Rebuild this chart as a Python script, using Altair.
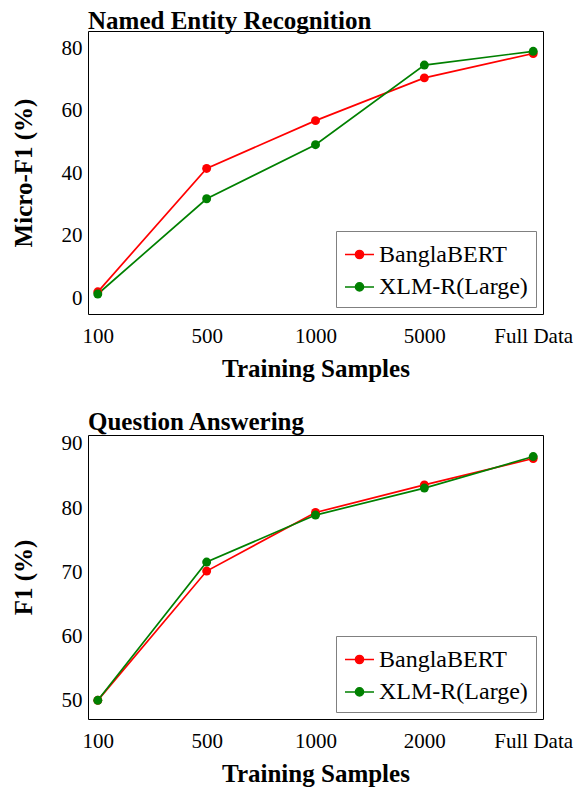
import altair as alt
import pandas as pd

samples_ner = ["100", "500", "1000", "5000", "Full Data"]
ner_banglabert = [2.1, 41.6, 56.9, 70.6, 78.4]
ner_xlmr = [1.4, 31.9, 49.2, 74.7, 79.1]

samples_qa = ["100", "500", "1000", "2000", "Full Data"]
qa_banglabert = [50.1, 70.2, 79.3, 83.6, 87.7]
qa_xlmr = [50.1, 71.6, 78.9, 83.1, 88.0]

models = ["BanglaBERT", "XLM-R(Large)"]
colors = ["#ff0000", "#008000"]

ner_ticks = [0, 20, 40, 60, 80]
qa_ticks = [50, 60, 70, 80, 90]


def make_df(samples, a, b):
    rows = []
    for s, v in zip(samples, a):
        rows.append({"samples": s, "value": v, "model": models[0], "ord": 0})
    for s, v in zip(samples, b):
        rows.append({"samples": s, "value": v, "model": models[1], "ord": 1})
    return pd.DataFrame(rows)


r = 0.28
symbol_path = (
    f"M-1,0L-{r},0A{r},{r},0,1,1,{r},0L1,0"
    f"M{r},0A{r},{r},0,1,1,-{r},0Z"
)

SERIF = "Liberation Serif"


def panel(df, order, title, ytitle, ydomain, yticks, height):
    x = alt.X(
        "samples:N",
        sort=order,
        scale=alt.Scale(type="point", padding=0.09),
        axis=alt.Axis(
            title="Training Samples",
            labelAngle=0,
            ticks=False,
            domain=False,
            labelPadding=11,
            titlePadding=10,
        ),
    )
    y = alt.Y(
        "value:Q",
        scale=alt.Scale(domain=ydomain, nice=False, zero=False),
        axis=alt.Axis(
            values=yticks,
            grid=False,
            ticks=False,
            domain=False,
            labelPadding=6,
            title=ytitle,
            titlePadding=25,
        ),
    )
    color = alt.Color(
        "model:N",
        scale=alt.Scale(domain=models, range=colors),
        legend=alt.Legend(
            title=None,
            orient="bottom-right",
            offset=7,
            padding=8,
            strokeColor="#808080",
            fillColor="white",
            labelFont=SERIF,
            labelFontSize=24,
            labelColor="black",
            labelOffset=4,
            symbolType=symbol_path,
            symbolSize=841,
            symbolStrokeWidth=1.5,
            rowPadding=4.4,
            cornerRadius=0,
        ),
    )
    line = alt.Chart(df).mark_line(strokeWidth=1.7).encode(
        x=x, y=y, color=color, order=alt.Order("ord:Q")
    )
    pts = alt.Chart(df).mark_point(filled=True, size=80, opacity=1).encode(
        x=x, y=y, color=color, order=alt.Order("ord:Q")
    )
    return alt.layer(line, pts).properties(
        width=455,
        height=height,
        title=alt.TitleParams(
            text=title,
            anchor="start",
            frame="group",
            font=SERIF,
            fontSize=25,
            fontWeight="bold",
            color="black",
            offset=-2.5,
        ),
    )


ner = panel(make_df(samples_ner, ner_banglabert, ner_xlmr), samples_ner,
            "Named Entity Recognition", "Micro-F1 (%)", [-5, 85.6], ner_ticks, 283)
qa = panel(make_df(samples_qa, qa_banglabert, qa_xlmr), samples_qa,
           "Question Answering", "F1 (%)", [47.2, 91.35], qa_ticks, 284)

chart = alt.vconcat(ner, qa, spacing=27).resolve_legend(
    color="independent"
).resolve_scale(color="independent").properties(
    padding={"left": 2, "top": 0, "right": 0, "bottom": 5}
).configure_view(stroke="black", strokeWidth=1).configure_axis(
    labelFont=SERIF,
    labelFontSize=21,
    labelColor="black",
    titleFont=SERIF,
    titleFontSize=25,
    titleFontWeight="bold",
    titleColor="black",
).configure_scale(zero=False)

chart.save("out.html", embed_options={"renderer": "svg", "actions": False})
